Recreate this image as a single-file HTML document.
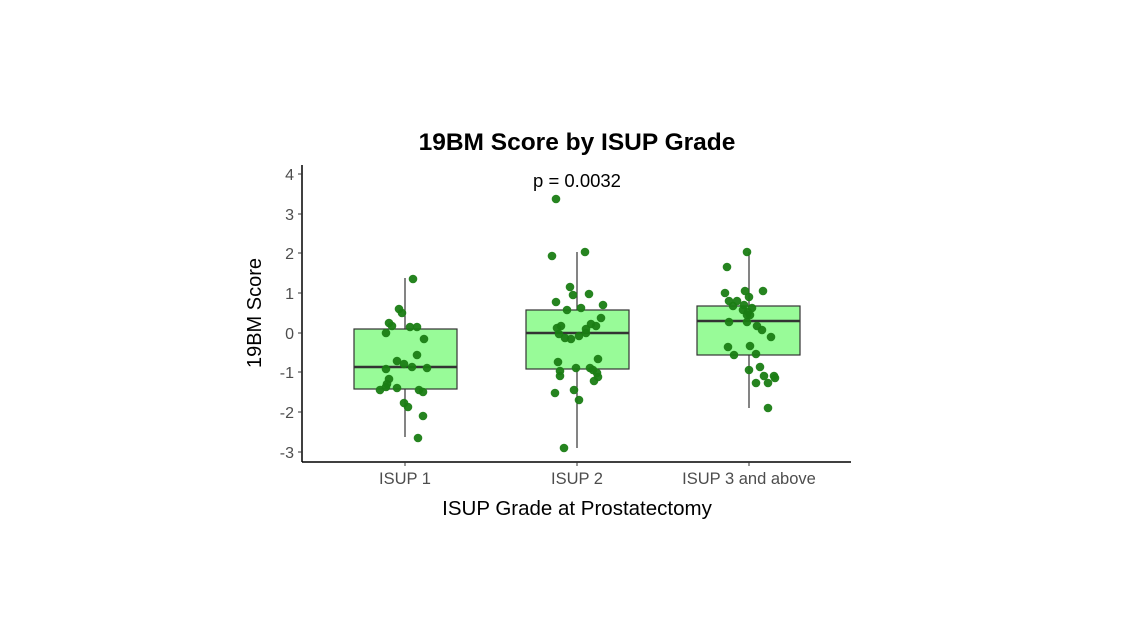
<!DOCTYPE html>
<html><head><meta charset="utf-8"><style>
html,body{margin:0;padding:0;background:#fff;}
svg{display:block;font-family:"Liberation Sans",Arial,sans-serif;}
</style></head><body>
<svg width="1142" height="643" viewBox="0 0 1142 643" xmlns="http://www.w3.org/2000/svg">
<rect width="1142" height="643" fill="#fff"/>
<text x="577" y="150" text-anchor="middle" font-size="24.5" font-weight="bold" fill="#000">19BM Score by ISUP Grade</text>
<text x="577" y="187" text-anchor="middle" font-size="18.5" fill="#000">p = 0.0032</text>
<!-- axes -->
<line x1="302" y1="165" x2="302" y2="462" stroke="#000" stroke-width="1.5"/>
<line x1="302" y1="462" x2="851" y2="462" stroke="#000" stroke-width="1.5"/>
<g stroke="#333" stroke-width="1">
<line x1="298" y1="174" x2="302" y2="174"/><line x1="298" y1="214" x2="302" y2="214"/>
<line x1="298" y1="253" x2="302" y2="253"/><line x1="298" y1="293" x2="302" y2="293"/>
<line x1="298" y1="333" x2="302" y2="333"/><line x1="298" y1="372" x2="302" y2="372"/>
<line x1="298" y1="412" x2="302" y2="412"/><line x1="298" y1="452" x2="302" y2="452"/>
<line x1="405" y1="462" x2="405" y2="466"/><line x1="577" y1="462" x2="577" y2="466"/><line x1="749" y1="462" x2="749" y2="466"/>
</g>
<g font-size="16" fill="#4d4d4d" text-anchor="end">
<text x="294" y="180">4</text><text x="294" y="220">3</text><text x="294" y="259">2</text><text x="294" y="299">1</text>
<text x="294" y="339">0</text><text x="294" y="378">-1</text><text x="294" y="418">-2</text><text x="294" y="458">-3</text>
</g>
<g font-size="16.5" fill="#4d4d4d" text-anchor="middle">
<text x="405" y="484">ISUP 1</text><text x="577" y="484">ISUP 2</text><text x="749" y="484">ISUP 3 and above</text>
</g>
<text x="577" y="515" text-anchor="middle" font-size="20.5" fill="#000">ISUP Grade at Prostatectomy</text>
<text transform="translate(261,313) rotate(-90)" text-anchor="middle" font-size="20" fill="#000">19BM Score</text>
<!-- boxes -->
<g stroke="#333" stroke-width="1.2">
<line x1="405" y1="278" x2="405" y2="437"/>
<rect x="354" y="329" width="103" height="60" fill="#98fb98"/>
<line x1="354" y1="367" x2="457" y2="367" stroke-width="2.5"/>
<line x1="577" y1="252" x2="577" y2="448"/>
<rect x="526" y="310" width="103" height="59" fill="#98fb98"/>
<line x1="526" y1="333" x2="629" y2="333" stroke-width="2.5"/>
<line x1="749" y1="252" x2="749" y2="408"/>
<rect x="697" y="306" width="103" height="49" fill="#98fb98"/>
<line x1="697" y1="321" x2="800" y2="321" stroke-width="2.5"/>
</g>
<g fill="#1a7d14" fill-opacity="0.95">
<circle cx="413" cy="279" r="4.3"/><circle cx="399" cy="309" r="4.3"/><circle cx="402" cy="313" r="4.3"/><circle cx="389" cy="323" r="4.3"/><circle cx="392" cy="326" r="4.3"/><circle cx="386" cy="333" r="4.3"/><circle cx="410" cy="327" r="4.3"/><circle cx="417" cy="327" r="4.3"/><circle cx="424" cy="339" r="4.3"/><circle cx="417" cy="355" r="4.3"/><circle cx="397" cy="361" r="4.3"/><circle cx="404" cy="364" r="4.3"/><circle cx="412" cy="367" r="4.3"/><circle cx="427" cy="368" r="4.3"/><circle cx="386" cy="369" r="4.3"/><circle cx="389" cy="379" r="4.3"/><circle cx="387" cy="384" r="4.3"/><circle cx="386" cy="387" r="4.3"/><circle cx="380" cy="390" r="4.3"/><circle cx="397" cy="388" r="4.3"/><circle cx="419" cy="390" r="4.3"/><circle cx="423" cy="392" r="4.3"/><circle cx="404" cy="403" r="4.3"/><circle cx="408" cy="407" r="4.3"/><circle cx="423" cy="416" r="4.3"/><circle cx="418" cy="438" r="4.3"/>
<circle cx="556" cy="199" r="4.3"/><circle cx="552" cy="256" r="4.3"/><circle cx="585" cy="252" r="4.3"/><circle cx="570" cy="287" r="4.3"/><circle cx="573" cy="295" r="4.3"/><circle cx="589" cy="294" r="4.3"/><circle cx="556" cy="302" r="4.3"/><circle cx="567" cy="310" r="4.3"/><circle cx="581" cy="308" r="4.3"/><circle cx="603" cy="305" r="4.3"/><circle cx="601" cy="318" r="4.3"/><circle cx="561" cy="326" r="4.3"/><circle cx="557" cy="328" r="4.3"/><circle cx="559" cy="334" r="4.3"/><circle cx="565" cy="338" r="4.3"/><circle cx="571" cy="339" r="4.3"/><circle cx="579" cy="336" r="4.3"/><circle cx="586" cy="333" r="4.3"/><circle cx="586" cy="329" r="4.3"/><circle cx="591" cy="324" r="4.3"/><circle cx="596" cy="326" r="4.3"/><circle cx="598" cy="359" r="4.3"/><circle cx="558" cy="362" r="4.3"/><circle cx="576" cy="368" r="4.3"/><circle cx="590" cy="368" r="4.3"/><circle cx="593" cy="370" r="4.3"/><circle cx="560" cy="371" r="4.3"/><circle cx="560" cy="376" r="4.3"/><circle cx="597" cy="373" r="4.3"/><circle cx="598" cy="377" r="4.3"/><circle cx="594" cy="381" r="4.3"/><circle cx="555" cy="393" r="4.3"/><circle cx="574" cy="390" r="4.3"/><circle cx="579" cy="400" r="4.3"/><circle cx="564" cy="448" r="4.3"/>
<circle cx="747" cy="252" r="4.3"/><circle cx="727" cy="267" r="4.3"/><circle cx="725" cy="293" r="4.3"/><circle cx="745" cy="291" r="4.3"/><circle cx="763" cy="291" r="4.3"/><circle cx="749" cy="297" r="4.3"/><circle cx="729" cy="301" r="4.3"/><circle cx="737" cy="301" r="4.3"/><circle cx="733" cy="306" r="4.3"/><circle cx="744" cy="305" r="4.3"/><circle cx="752" cy="308" r="4.3"/><circle cx="743" cy="310" r="4.3"/><circle cx="748" cy="312" r="4.3"/><circle cx="747" cy="315" r="4.3"/><circle cx="750" cy="315" r="4.3"/><circle cx="729" cy="322" r="4.3"/><circle cx="747" cy="322" r="4.3"/><circle cx="757" cy="326" r="4.3"/><circle cx="762" cy="330" r="4.3"/><circle cx="771" cy="337" r="4.3"/><circle cx="728" cy="347" r="4.3"/><circle cx="750" cy="346" r="4.3"/><circle cx="734" cy="355" r="4.3"/><circle cx="756" cy="354" r="4.3"/><circle cx="760" cy="367" r="4.3"/><circle cx="749" cy="370" r="4.3"/><circle cx="764" cy="376" r="4.3"/><circle cx="774" cy="376" r="4.3"/><circle cx="768" cy="383" r="4.3"/><circle cx="775" cy="378" r="4.3"/><circle cx="756" cy="383" r="4.3"/><circle cx="768" cy="408" r="4.3"/>
</g>
</svg>
</body></html>
